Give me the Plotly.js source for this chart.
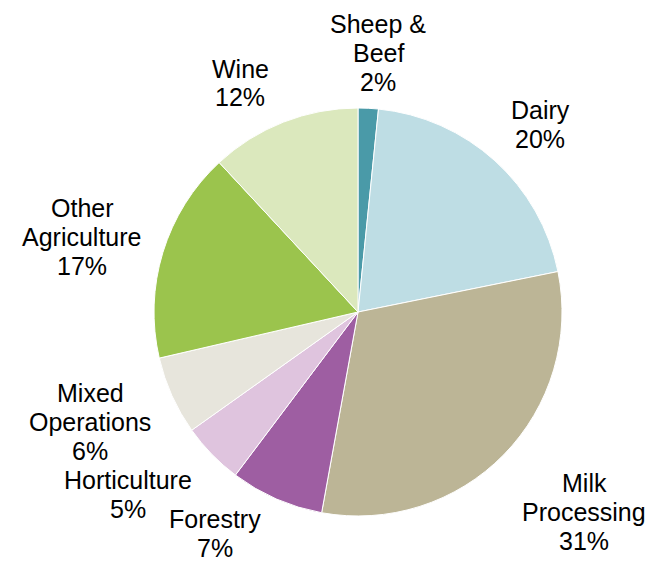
<!DOCTYPE html>
<html>
<head>
<meta charset="utf-8">
<script src="https://cdn.plot.ly/plotly-3.0.1.min.js"></script>
<style>html,body{margin:0;padding:0;background:#fff;}#chart{width:648px;height:564px;}</style>
</head>
<body>
<div id="chart"></div>
<script>
const categories = ["Sheep &<br>Beef", "Dairy", "Milk<br>Processing", "Forestry", "Horticulture", "Mixed<br>Operations", "Other<br>Agriculture", "Wine"];
const shares = [1.6, 20.2, 31.0, 7.4, 4.9, 6.2, 16.7, 11.9];
const colors = ["#4a9aa8", "#bedde4", "#bcb596", "#9e5ea2", "#dfc4de", "#e7e5dc", "#9bc44d", "#dbe8bd"];

// label block centres in pixels (layout only)
const labelPos = [[378, 53], [540, 124], [584, 512], [215, 533], [128, 494], [90, 422], [82, 237], [240, 83]];

const W = 648, H = 564, lineGap = 29;
const total = shares.reduce((a, b) => a + b, 0);
const annotations = [];
categories.forEach((c, i) => {
  const lines = c.split("<br>").concat([Math.round(shares[i] / total * 100) + "%"]);
  const n = lines.length;
  lines.forEach((t, j) => {
    const py = labelPos[i][1] + (j - (n - 1) / 2) * lineGap;
    annotations.push({
      text: t,
      xref: "paper", yref: "paper",
      x: labelPos[i][0] / W, y: 1 - py / H,
      xanchor: "center", yanchor: "middle",
      showarrow: false, align: "center",
      font: {family: "Liberation Sans, Arial, sans-serif", size: 25, color: "#000"}
    });
  });
});

const cx = 358, cy = 312, r = 204;
const data = [{
  type: "pie",
  labels: categories,
  values: shares,
  sort: false,
  direction: "clockwise",
  rotation: 0,
  textinfo: "none",
  hoverinfo: "label+percent",
  marker: {colors: colors, line: {color: "#ffffff", width: 1}},
  domain: {x: [(cx - r) / W, (cx + r) / W], y: [1 - (cy + r) / H, 1 - (cy - r) / H]}
}];

const layout = {
  width: W, height: H,
  margin: {l: 0, r: 0, t: 0, b: 0},
  showlegend: false,
  paper_bgcolor: "#fff",
  annotations: annotations
};
Plotly.newPlot("chart", data, layout, {displayModeBar: false, staticPlot: true});
</script>
</body>
</html>
